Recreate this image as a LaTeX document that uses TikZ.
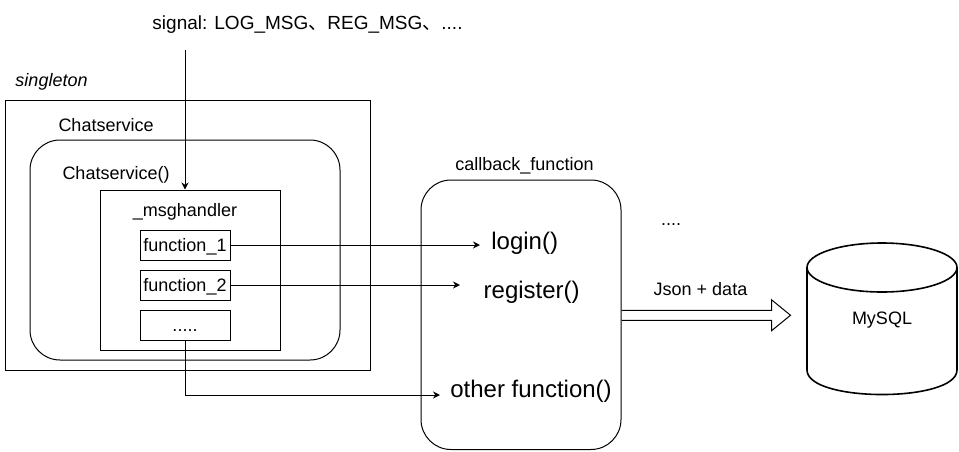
\documentclass[tikz,border=0pt]{standalone}
\usepackage{fontspec}
\setmainfont{Liberation Sans}
\newfontfamily\cjk{Noto Sans CJK SC}
\usetikzlibrary{arrows.meta}
\begin{document}
\begin{tikzpicture}[x=1pt,y=-1pt,line width=1pt,
  frame/.style={draw,inner sep=0pt},
  rframe/.style={draw,rounded corners=30pt,inner sep=0pt},
  fnbox/.style={draw,minimum width=90pt,minimum height=30pt,inner sep=0pt,
    font=\fontsize{18}{18}\selectfont,text height=12.9pt,text depth=0pt},
  lbl/.style={anchor=base,inner sep=0pt,font=\fontsize{18}{18}\selectfont},
  lblw/.style={lbl,anchor=base west},
  big/.style={anchor=base,inner sep=0pt,font=\fontsize{24}{24}\selectfont},
  arr/.style={-{Stealth[length=7pt,width=7pt]}},
  dbline/.style={line width=1.6pt}]
\useasboundingbox (0,0) rectangle (959,451);

% containers
\node[frame,minimum width=365pt,minimum height=270pt] (outer) at (187.5,235) {};
\node[rframe,minimum width=310pt,minimum height=220pt] (cs) at (185,250) {};
\node[frame,minimum width=180pt,minimum height=160pt] (mh) at (190,270) {};
\node[fnbox] (f1) at (185,245) {function\_1};
\node[fnbox] (f2) at (185,285) {function\_2};
\node[fnbox] (f3) at (185,325) {.....};
\node[rframe,minimum width=200pt,minimum height=269.5pt] (cb) at (521,314.75) {};

% labels
\node[anchor=base,inner sep=0pt,font=\fontsize{19}{19}\selectfont] (signal) at (307.5,29)
  {signal: LOG\_MSG{\cjk 、}REG\_MSG{\cjk 、}....};
\node[lblw,font=\fontsize{18}{18}\selectfont\itshape] (singleton) at (15,86.5) {singleton};
\node[lblw] (cstitle) at (58,131.5) {Chatservice};
\node[lblw] (cstor) at (62,179) {Chatservice()};
\node[lbl] (mhtitle) at (185,216.7) {\_msghandler};
\node[lbl] (cbtitle) at (524.5,170) {callback\_function};
\node[big] (login) at (524.7,249.5) {login()};
\node[big] (register) at (531.7,298) {register()};
\node[big] (other) at (531,397) {other function()};
\node[lbl] (dots) at (671,225) {....};
\node[lbl] (json) at (700.5,295) {Json + data};
\node[lbl] (mysql) at (882,324.5) {MySQL};

% connector ends
\coordinate (sigstart) at (185,50);
\coordinate (t1) at (480,245);
\coordinate (t2) at (460,285);
\coordinate (t3) at (440,395);

% connectors
\draw[arr] (sigstart) -- (sigstart |- mh.north);
\draw[arr] (f1.east) -- (t1);
\draw[arr] (f2.east) -- (t2);
\draw[arr] (f3.south) |- (t3);

% hollow arrow
\draw (cb.east) ++(0,-4.5) -- ++(150,0) -- ++(0,-10.5) -- ++(19,15.5)
  -- ++(-19,15.5) -- ++(0,-10.5) -- ++(-150,0);

% database cylinder
\draw[dbline] (882,267.5) ellipse [x radius=75, y radius=24.5];
\draw[dbline] (807,267.5) -- (807,370) .. controls (807,402.7) and (957,402.7) .. (957,370) -- (957,267.5);
\end{tikzpicture}
\end{document}
